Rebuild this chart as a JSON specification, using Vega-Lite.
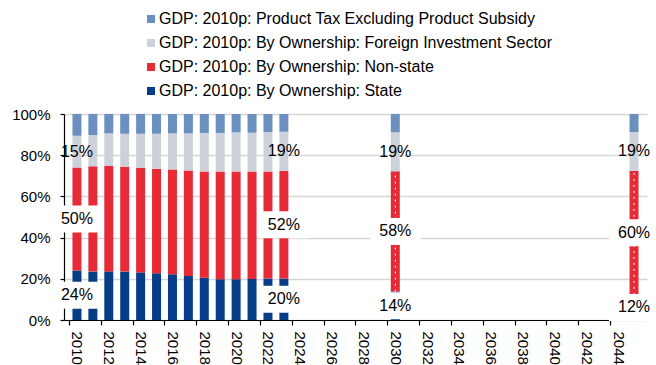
{
  "$schema": "https://vega.github.io/schema/vega-lite/v6.json",
  "autosize": "none",
  "width": 583,
  "height": 206,
  "padding": {"left": 64, "top": 114, "right": 9, "bottom": 45},
  "background": "white",
  "config": {
    "view": {"stroke": null},
    "font": "Liberation Sans",
    "axis": {"labelFont": "Liberation Sans", "labelFontSize": 15, "labelColor": "#000000", "title": null},
    "axisX": {"labelOverlap": false, "labelSeparation": 0}
  },
  "data": {
    "values": [
      {"year": 2010, "s": "GDP: 2010p: By Ownership: State", "k": 1, "v": 24.0, "lab": "24%"},
      {"year": 2010, "s": "GDP: 2010p: By Ownership: Non-state", "k": 2, "v": 50.0, "lab": "50%"},
      {"year": 2010, "s": "GDP: 2010p: By Ownership: Foreign Investment Sector", "k": 3, "v": 15.4, "lab": "15%"},
      {"year": 2010, "s": "GDP: 2010p: Product Tax Excluding Product Subsidy", "k": 4, "v": 10.6},
      {"year": 2011, "s": "GDP: 2010p: By Ownership: State", "k": 1, "v": 23.5},
      {"year": 2011, "s": "GDP: 2010p: By Ownership: Non-state", "k": 2, "v": 51.1},
      {"year": 2011, "s": "GDP: 2010p: By Ownership: Foreign Investment Sector", "k": 3, "v": 15.2},
      {"year": 2011, "s": "GDP: 2010p: Product Tax Excluding Product Subsidy", "k": 4, "v": 10.2},
      {"year": 2012, "s": "GDP: 2010p: By Ownership: State", "k": 1, "v": 23.6},
      {"year": 2012, "s": "GDP: 2010p: By Ownership: Non-state", "k": 2, "v": 51.3},
      {"year": 2012, "s": "GDP: 2010p: By Ownership: Foreign Investment Sector", "k": 3, "v": 15.7},
      {"year": 2012, "s": "GDP: 2010p: Product Tax Excluding Product Subsidy", "k": 4, "v": 9.4},
      {"year": 2013, "s": "GDP: 2010p: By Ownership: State", "k": 1, "v": 23.5},
      {"year": 2013, "s": "GDP: 2010p: By Ownership: Non-state", "k": 2, "v": 50.9},
      {"year": 2013, "s": "GDP: 2010p: By Ownership: Foreign Investment Sector", "k": 3, "v": 16.0},
      {"year": 2013, "s": "GDP: 2010p: Product Tax Excluding Product Subsidy", "k": 4, "v": 9.6},
      {"year": 2014, "s": "GDP: 2010p: By Ownership: State", "k": 1, "v": 23.1},
      {"year": 2014, "s": "GDP: 2010p: By Ownership: Non-state", "k": 2, "v": 50.8},
      {"year": 2014, "s": "GDP: 2010p: By Ownership: Foreign Investment Sector", "k": 3, "v": 16.5},
      {"year": 2014, "s": "GDP: 2010p: Product Tax Excluding Product Subsidy", "k": 4, "v": 9.6},
      {"year": 2015, "s": "GDP: 2010p: By Ownership: State", "k": 1, "v": 22.7},
      {"year": 2015, "s": "GDP: 2010p: By Ownership: Non-state", "k": 2, "v": 50.7},
      {"year": 2015, "s": "GDP: 2010p: By Ownership: Foreign Investment Sector", "k": 3, "v": 17.0},
      {"year": 2015, "s": "GDP: 2010p: Product Tax Excluding Product Subsidy", "k": 4, "v": 9.6},
      {"year": 2016, "s": "GDP: 2010p: By Ownership: State", "k": 1, "v": 22.2},
      {"year": 2016, "s": "GDP: 2010p: By Ownership: Non-state", "k": 2, "v": 50.9},
      {"year": 2016, "s": "GDP: 2010p: By Ownership: Foreign Investment Sector", "k": 3, "v": 17.5},
      {"year": 2016, "s": "GDP: 2010p: Product Tax Excluding Product Subsidy", "k": 4, "v": 9.4},
      {"year": 2017, "s": "GDP: 2010p: By Ownership: State", "k": 1, "v": 21.4},
      {"year": 2017, "s": "GDP: 2010p: By Ownership: Non-state", "k": 2, "v": 51.2},
      {"year": 2017, "s": "GDP: 2010p: By Ownership: Foreign Investment Sector", "k": 3, "v": 18.0},
      {"year": 2017, "s": "GDP: 2010p: Product Tax Excluding Product Subsidy", "k": 4, "v": 9.4},
      {"year": 2018, "s": "GDP: 2010p: By Ownership: State", "k": 1, "v": 20.5},
      {"year": 2018, "s": "GDP: 2010p: By Ownership: Non-state", "k": 2, "v": 51.6},
      {"year": 2018, "s": "GDP: 2010p: By Ownership: Foreign Investment Sector", "k": 3, "v": 18.7},
      {"year": 2018, "s": "GDP: 2010p: Product Tax Excluding Product Subsidy", "k": 4, "v": 9.2},
      {"year": 2019, "s": "GDP: 2010p: By Ownership: State", "k": 1, "v": 19.8},
      {"year": 2019, "s": "GDP: 2010p: By Ownership: Non-state", "k": 2, "v": 52.3},
      {"year": 2019, "s": "GDP: 2010p: By Ownership: Foreign Investment Sector", "k": 3, "v": 18.7},
      {"year": 2019, "s": "GDP: 2010p: Product Tax Excluding Product Subsidy", "k": 4, "v": 9.2},
      {"year": 2020, "s": "GDP: 2010p: By Ownership: State", "k": 1, "v": 19.8},
      {"year": 2020, "s": "GDP: 2010p: By Ownership: Non-state", "k": 2, "v": 52.3},
      {"year": 2020, "s": "GDP: 2010p: By Ownership: Foreign Investment Sector", "k": 3, "v": 19.0},
      {"year": 2020, "s": "GDP: 2010p: Product Tax Excluding Product Subsidy", "k": 4, "v": 8.9},
      {"year": 2021, "s": "GDP: 2010p: By Ownership: State", "k": 1, "v": 19.9},
      {"year": 2021, "s": "GDP: 2010p: By Ownership: Non-state", "k": 2, "v": 52.2},
      {"year": 2021, "s": "GDP: 2010p: By Ownership: Foreign Investment Sector", "k": 3, "v": 18.8},
      {"year": 2021, "s": "GDP: 2010p: Product Tax Excluding Product Subsidy", "k": 4, "v": 9.1},
      {"year": 2022, "s": "GDP: 2010p: By Ownership: State", "k": 1, "v": 20.1},
      {"year": 2022, "s": "GDP: 2010p: By Ownership: Non-state", "k": 2, "v": 52.0},
      {"year": 2022, "s": "GDP: 2010p: By Ownership: Foreign Investment Sector", "k": 3, "v": 19.1},
      {"year": 2022, "s": "GDP: 2010p: Product Tax Excluding Product Subsidy", "k": 4, "v": 8.8},
      {"year": 2023, "s": "GDP: 2010p: By Ownership: State", "k": 1, "v": 20.1, "lab": "20%"},
      {"year": 2023, "s": "GDP: 2010p: By Ownership: Non-state", "k": 2, "v": 52.2, "lab": "52%"},
      {"year": 2023, "s": "GDP: 2010p: By Ownership: Foreign Investment Sector", "k": 3, "v": 19.1, "lab": "19%"},
      {"year": 2023, "s": "GDP: 2010p: Product Tax Excluding Product Subsidy", "k": 4, "v": 8.6},
      {"year": 2030, "s": "GDP: 2010p: By Ownership: State", "k": 1, "v": 13.8, "lab": "14%", "fc": true},
      {"year": 2030, "s": "GDP: 2010p: By Ownership: Non-state", "k": 2, "v": 58.4, "lab": "58%", "fc": true},
      {"year": 2030, "s": "GDP: 2010p: By Ownership: Foreign Investment Sector", "k": 3, "v": 18.9, "lab": "19%", "fc": true},
      {"year": 2030, "s": "GDP: 2010p: Product Tax Excluding Product Subsidy", "k": 4, "v": 8.9, "fc": true},
      {"year": 2045, "s": "GDP: 2010p: By Ownership: State", "k": 1, "v": 12.2, "lab": "12%", "fc": true},
      {"year": 2045, "s": "GDP: 2010p: By Ownership: Non-state", "k": 2, "v": 60.2, "lab": "60%", "fc": true},
      {"year": 2045, "s": "GDP: 2010p: By Ownership: Foreign Investment Sector", "k": 3, "v": 18.8, "lab": "19%", "fc": true},
      {"year": 2045, "s": "GDP: 2010p: Product Tax Excluding Product Subsidy", "k": 4, "v": 8.8, "fc": true}
    ]
  },
  "transform": [
    {"stack": "v", "groupby": ["year"], "sort": [{"field": "k", "order": "ascending"}], "as": ["y0", "y1"]}
  ],
  "encoding": {
    "x": {
      "field": "year", "type": "quantitative",
      "scale": {"domain": [2009.5, 2045.5], "nice": false, "zero": false},
      "axis": {
        "values": [2010, 2012, 2014, 2016, 2018, 2020, 2022, 2024, 2026, 2028, 2030, 2032, 2034, 2036, 2038, 2040, 2042, 2044],
        "format": "d", "labelAngle": 90, "labelAlign": "left", "labelBaseline": "middle",
        "tickOffset": -8.1, "labelOffset": 8.1,
        "domainColor": "#000000", "domainWidth": 1.2, "tickColor": "#000000", "tickSize": 5, "tickWidth": 1.2,
        "labelPadding": 6, "grid": false, "labelFlush": false, "labelOverlap": false, "labelSeparation": 0, "labelBound": false
      }
    }
  },
  "layer": [
    {
      "mark": {"type": "bar", "size": 9},
      "encoding": {
        "y": {
          "field": "y0", "type": "quantitative",
          "scale": {"domain": [0, 100], "nice": false},
          "axis": {
            "values": [0, 20, 40, 60, 80, 100],
            "labelExpr": "datum.value + '%'",
            "domainColor": "#000000", "domainWidth": 1.2, "tickColor": "#000000", "tickSize": 4, "tickWidth": 1.2,
            "labelPadding": 10,
            "grid": true, "gridColor": "#d6d6d6", "gridWidth": 1.6
          }
        },
        "y2": {"field": "y1"},
        "color": {
          "field": "s", "type": "nominal",
          "scale": {
            "domain": [
              "GDP: 2010p: Product Tax Excluding Product Subsidy",
              "GDP: 2010p: By Ownership: Foreign Investment Sector",
              "GDP: 2010p: By Ownership: Non-state",
              "GDP: 2010p: By Ownership: State"
            ],
            "range": ["#6b8fbf", "#cdd2da", "#e62b36", "#063d86"]
          },
          "legend": {
            "title": null, "orient": "none", "legendX": 79, "legendY": -103,
            "symbolType": "square", "symbolSize": 64, "symbolStrokeWidth": 0,
            "labelFont": "Liberation Sans", "labelFontSize": 16, "labelColor": "#000000",
            "labelOffset": 0, "rowPadding": 8, "labelLimit": 600
          }
        }
      }
    },
    {
      "transform": [{"filter": "datum.fc && datum.k == 2"}],
      "mark": {"type": "rule", "color": "#ffffff", "strokeWidth": 1, "strokeDash": [2, 4]},
      "encoding": {
        "y": {"field": "y0", "type": "quantitative"},
        "y2": {"field": "y1"}
      }
    },
    {
      "transform": [
        {"filter": "datum.lab && datum.k <= 2"},
        {"fold": ["y0", "y1"], "as": ["w", "p"]}
      ],
      "mark": {"type": "point", "shape": "M-1,-0.54H1V0.54H-1Z", "filled": true, "fill": "#ffffff", "opacity": 1, "strokeWidth": 0, "size": 2500},
      "encoding": {
        "y": {"aggregate": "mean", "field": "p", "type": "quantitative"},
        "detail": {"field": "s", "type": "nominal"}
      }
    },
    {
      "transform": [
        {"filter": "datum.lab"},
        {"fold": ["y0", "y1"], "as": ["w", "p"]}
      ],
      "mark": {"type": "text", "font": "Liberation Sans", "fontSize": 16, "color": "#000000", "align": "center", "baseline": "middle"},
      "encoding": {
        "y": {"aggregate": "mean", "field": "p", "type": "quantitative"},
        "text": {"field": "lab", "type": "nominal"},
        "detail": {"field": "s", "type": "nominal"}
      }
    }
  ]
}
